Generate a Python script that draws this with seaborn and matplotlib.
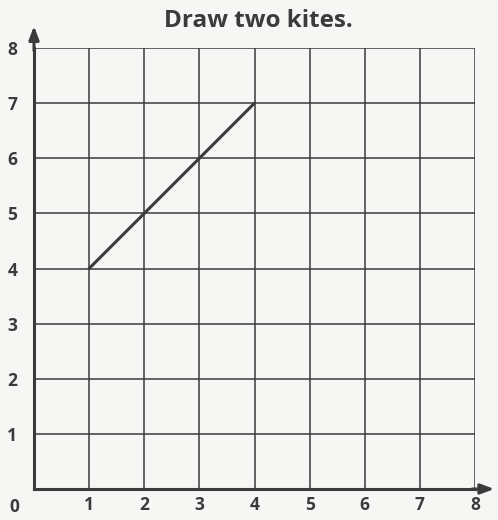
import matplotlib
matplotlib.use('Agg')
import matplotlib.pyplot as plt
import seaborn as sns
import pandas as pd

# data
grid_ticks = [0, 1, 2, 3, 4, 5, 6, 7, 8]
tick_labels = ['1', '2', '3', '4', '5', '6', '7', '8']
seg_x = [1, 4]
seg_y = [4, 7]
title = 'Draw two kites.'

sns.set_style('white')
plt.rcParams['font.family'] = ['Open Sans', 'DejaVu Sans']

ink = '#3b3b3d'
paper = '#f6f6f4'

fig = plt.figure(figsize=(4.98, 5.2), dpi=100, facecolor=paper)
ax = fig.add_axes([34 / 498, 31 / 520, 441 / 498, 441 / 520])
ax.set_facecolor(paper)

df = pd.DataFrame({'x': seg_x, 'y': seg_y})
sns.lineplot(data=df, x='x', y='y', color=ink, linewidth=2.2, ax=ax)

ax.set_xlim(0, 8)
ax.set_ylim(0, 8)
ax.set_xticks(grid_ticks)
ax.set_yticks(grid_ticks)
ax.set_xticklabels([''] + tick_labels)
ax.set_yticklabels([''] + tick_labels)
ax.grid(True, color=ink, linewidth=1.1)
ax.tick_params(length=0, labelsize=12.5, labelcolor=ink)
ax.tick_params(axis='x', pad=5)
ax.tick_params(axis='y', pad=12)
for lab in ax.get_xticklabels() + ax.get_yticklabels():
    lab.set_fontweight('bold')
for s in ['top', 'right']:
    ax.spines[s].set_visible(False)
for s in ['left', 'bottom']:
    ax.spines[s].set_color(ink)
    ax.spines[s].set_linewidth(2.2)
ax.set_xlabel('')
ax.set_ylabel('')

# axis arrows
ax.annotate('', xy=(0, 8.45), xytext=(0, 7.9), annotation_clip=False,
            arrowprops=dict(arrowstyle='-|>,head_length=0.8,head_width=0.3',
                            color=ink, lw=2.2))
ax.annotate('', xy=(8.4, 0), xytext=(7.9, 0), annotation_clip=False,
            arrowprops=dict(arrowstyle='-|>,head_length=0.8,head_width=0.3',
                            color=ink, lw=2.2))

ax.text(-0.36, -0.33, '0', ha='center', va='center', fontsize=12.5,
        fontweight='bold', color=ink)
fig.text(258 / 498, 1 - 21 / 520, title, ha='center', va='center',
         fontsize=17.5, fontweight='bold', color=ink)

fig.savefig('out.png', dpi=100, facecolor=paper)
